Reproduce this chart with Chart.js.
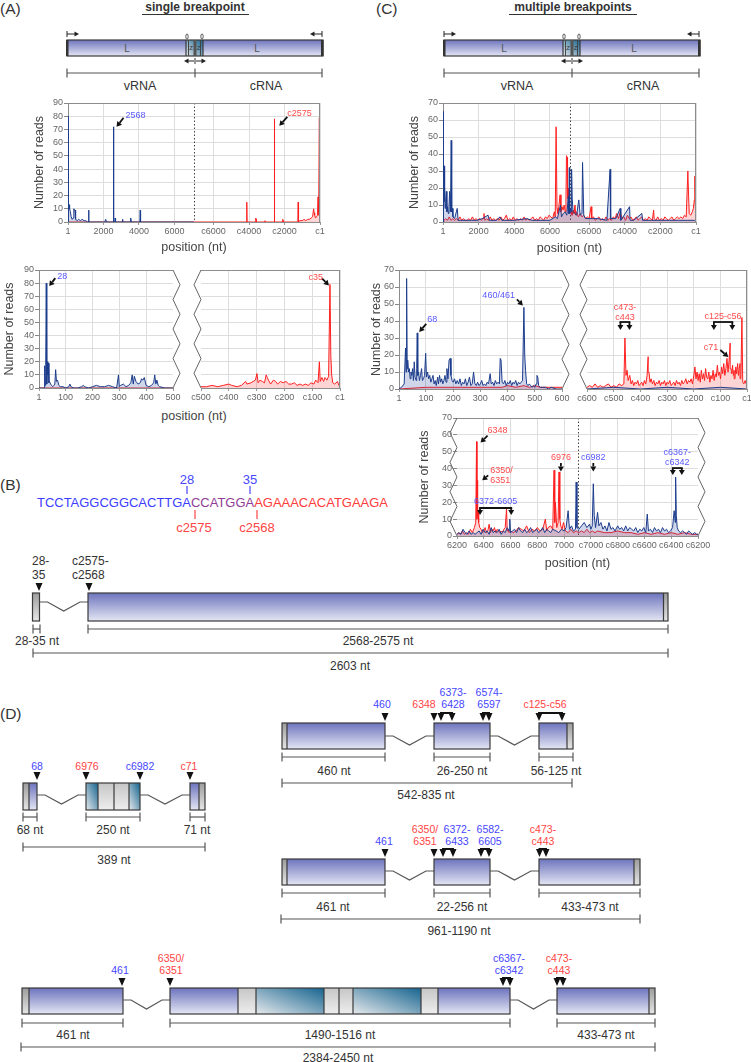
<!DOCTYPE html>
<html>
<head>
<meta charset="utf-8">
<script src="https://cdn.jsdelivr.net/npm/chart.js@4.4.0/dist/chart.umd.min.js"></script>
<style>
  body { margin: 0; background: #fff; width: 751px; height: 1062px; position: relative; overflow: hidden; }
  canvas { position: absolute; }
  #art { position: absolute; left: 0; top: 0; font-family: 'Liberation Sans', Arial, sans-serif; }
</style>
</head>
<body>
<svg id="art" width="751" height="1062">
  <defs>
    <linearGradient id="gb" x1="0" y1="0" x2="0" y2="1"><stop offset="0" stop-color="#6d74bd"/><stop offset="1" stop-color="#e4e6f3"/></linearGradient>
    <linearGradient id="gg" x1="0" y1="0" x2="0" y2="1"><stop offset="0" stop-color="#9c9c9c"/><stop offset="1" stop-color="#e6e6e6"/></linearGradient>
    <linearGradient id="gl" x1="0" y1="0" x2="0" y2="1"><stop offset="0" stop-color="#c6c6c6"/><stop offset="1" stop-color="#eeeeee"/></linearGradient>
    <linearGradient id="gt" x1="1" y1="0" x2="0" y2="1"><stop offset="0" stop-color="#16648f"/><stop offset="1" stop-color="#e6e9ec"/></linearGradient>
  </defs>
</svg>
<script>
// genome length used to fold vRNA + cRNA onto one axis
const L = 7100;

// ---- data: [position, number of reads]; 'cNNNN' = cRNA position ----
const aTopBlue = [[1,0],[10,14],[28,80],[40,14],[60,13],[90,10],[130,8],[180,4],[240,2],[300,3],[330,10],[360,9],[400,9],[430,2],[520,1],[600,2],[700,1],[800,2],[900,1],[1000,1],[1100,0],[1150,0],[1165,9],[1180,0],[2080,0],[2120,2],[2160,1],[2200,0],[2555,0],[2568,72],[2580,0],[2640,0],[2660,3],[2680,0],[3060,0],[3075,2],[3090,0],[3500,0],[3520,2],[3550,3],[3570,0],[4050,0],[4070,9],[4090,0],[7100,0]];
const aTopRed = [[1,0],['c7099',0],['c4140',0],['c4127',15],['c4110',0],['c3640',0],['c3620',3],['c3600',2],['c3580',0],['c3120',0],['c3100',1],['c3080',0],['c2590',0],['c2575',78],['c2565',11],['c2550',0],['c2130',0],['c2100',2],['c2080',1],['c2060',0],['c1250',0],['c1230',15],['c1210',0],['c1150',1],['c1000',1],['c900',2],['c800',1],['c700',2],['c600',2],['c500',3],['c420',4],['c360',10],['c330',7],['c300',5],['c250',3],['c200',4],['c150',5],['c110',19],['c90',5],['c60',8],['c37',79],['c30',12],['c15',5],['c1',3]];

const aLeftBlue = [[1,0],[10,0],[20,0],[22,17],[24,2],[26,17],[28,80],[30,3],[32,20],[34,10],[36,19],[38,4],[40,5],[44,3],[48,2],[52,1],[56,2],[60,3],[63,14],[66,5],[70,6],[75,2],[80,1],[90,1],[100,0],[112,1],[116,3],[120,1],[130,0],[145,0],[160,1],[166,2],[170,1],[185,0],[200,1],[215,2],[230,1],[245,1],[260,2],[275,1],[290,0],[297,10],[300,1],[305,2],[315,3],[325,1],[335,2],[343,4],[348,10],[352,3],[356,9],[362,5],[370,3],[378,4],[383,7],[388,6],[393,8],[400,2],[410,1],[420,2],[428,4],[432,10],[436,3],[440,6],[445,2],[450,1],[470,0],[500,0]];
const aLeftRed = [[1,0],[500,0]];
// right-hand panels: cRNA position numbers (axis runs c500 -> c1)
const aRightRed = [[500,1],[480,1],[460,2],[440,1],[420,2],[400,3],[390,2],[370,1],[355,2],[340,5],[335,3],[320,4],[305,6],[299,11],[295,4],[288,6],[280,5],[272,4],[266,10],[262,8],[258,6],[250,3],[240,6],[232,5],[225,3],[215,5],[205,4],[195,5],[185,3],[175,3],[165,4],[155,2],[145,3],[135,2],[125,3],[115,2],[105,4],[95,3],[88,6],[80,4],[75,20],[72,5],[66,8],[60,5],[55,8],[48,6],[42,9],[37,79],[34,25],[31,10],[27,4],[20,3],[10,5],[5,2],[1,2]];

const cTopBlue = [[1,0],[15,10],[29,65],[45,20],[68,33],[85,12],[99,21],[120,8],[150,12],[189,18],[220,6],[260,9],[300,5],[336,9],[373,18],[420,6],[461,48],[490,6],[510,8],[560,3],[650,2],[800,8],[850,1],[1000,1],[1300,1],[1600,1],[1900,1],[2200,2],[2530,4],[2600,1],[3000,1],[3200,3],[3300,1],[4000,1],[4700,2],[5000,1],[5500,1],[6000,1],[6300,3],[6420,2],[6594,10],[6650,3],[6750,5],[6850,6],[6950,4],[7030,15],[7060,5],[7090,32],
  ['c7090',5],['c7050',8],['c7010',6],['c6982',31],['c6950',14],['c6900',6],['c6800',5],['c6700',4],['c6579',13],['c6500',4],['c6400',5],['c6367',35],['c6300',4],['c6200',2],['c6000',2],['c5800',2],['c5500',2],['c5000',1],['c4822',31],['c4790',2],['c4500',2],['c4255',8],['c4220',1],['c3730',9],['c3700',1],['c3500',1],['c3037',5],['c3000',1],['c2500',1],['c2000',1],['c1500',1],['c1000',1],['c500',1],['c100',1],['c1',0]];
const cTopRed = [[1,0],[50,1],[150,2],[250,1],[350,3],[450,1],[550,2],[650,1],[750,2],[850,1],[950,3],[1050,1],[1150,2],[1250,1],[1350,1],[1450,2],[1550,1],[1650,3],[1750,1],[1850,2],[1950,1],[2050,2],[2150,1],[2250,2],[2300,5],[2350,1],[2450,2],[2550,1],[2650,3],[2750,1],[2850,2],[2950,1],[3050,2],[3150,1],[3250,3],[3350,1],[3450,2],[3550,4],[3650,1],[3750,2],[3850,1],[3950,3],[4050,1],[4150,2],[4250,1],[4350,2],[4450,1],[4550,3],[4650,1],[4750,2],[4850,1],[4950,2],[5050,3],[5150,1],[5250,2],[5350,1],[5450,3],[5550,2],[5650,1],[5750,3],[5850,2],[5950,4],[6050,3],[6150,2],[6250,6],[6300,3],[6348,56],[6400,8],[6450,5],[6500,9],[6570,16],[6620,6],[6680,9],[6740,7],[6800,10],[6860,6],[6900,12],[6930,39],[6962,38],[6990,14],[7020,20],[7050,9],[7080,6],
  ['c7080',5],['c7040',8],['c7000',6],['c6960',4],['c6900',7],['c6850',5],['c6793',10],['c6750',4],['c6700',6],['c6600',3],['c6500',5],['c6400',3],['c6300',4],['c6200',2],['c6100',3],['c6000',2],['c5887',9],['c5850',2],['c5750',3],['c5650',1],['c5550',2],['c5450',3],['c5350',1],['c5250',2],['c5150',1],['c5050',3],['c4950',1],['c4850',2],['c4750',1],['c4650',3],['c4550',2],['c4450',5],['c4350',2],['c4250',6],['c4150',2],['c4050',3],['c3950',1],['c3850',4],['c3750',2],['c3650',3],['c3550',1],['c3450',2],['c3350',3],['c3250',1],['c3150',2],['c3050',3],['c2950',1],['c2850',2],['c2750',1],['c2650',3],['c2550',2],['c2450',1],['c2380',7],['c2350',2],['c2250',1],['c2150',3],['c2050',1],['c1950',2],['c1850',1],['c1750',3],['c1650',2],['c1550',1],['c1450',2],['c1350',3],['c1250',1],['c1150',2],['c1050',3],['c950',2],['c850',3],['c750',2],['c650',4],['c550',3],['c458',30],['c430',20],['c380',5],['c300',4],['c200',6],['c150',8],['c95',13],['c64',27],['c40',10],['c20',42],['c10',4],['c1',2]];

const cLeftBlue = [[1,0],[10,1],[20,3],[25,24],[27,10],[29,65],[31,12],[33,17],[36,10],[39,12],[42,6],[45,10],[48,8],[51,12],[54,5],[57,16],[60,7],[64,5],[66,12],[68,33],[70,8],[73,10],[76,5],[80,8],[84,12],[87,5],[91,6],[95,8],[99,21],[102,7],[106,10],[110,6],[114,8],[118,4],[122,6],[126,8],[130,3],[134,5],[138,2],[143,7],[146,3],[150,8],[154,4],[158,6],[162,3],[166,5],[170,8],[174,4],[177,12],[181,6],[185,17],[189,18],[192,8],[196,5],[200,4],[205,6],[210,3],[215,5],[220,3],[225,6],[230,2],[235,4],[240,3],[245,6],[250,2],[255,4],[260,7],[265,2],[270,3],[275,10],[280,3],[285,2],[290,4],[295,2],[300,3],[305,5],[310,2],[315,3],[320,2],[325,4],[330,3],[336,9],[340,3],[345,4],[350,2],[355,5],[360,3],[365,4],[370,3],[373,18],[376,17],[380,4],[385,3],[390,5],[395,2],[400,4],[405,3],[410,5],[415,2],[420,4],[425,3],[430,5],[435,2],[440,4],[445,3],[450,4],[455,5],[460,48],[463,20],[466,11],[470,3],[475,2],[480,3],[485,2],[490,1],[495,2],[500,1],[505,3],[508,8],[511,7],[514,2],[520,1],[530,1],[540,1],[550,0],[560,1],[580,0],[600,0]];
const cLeftRed = [[1,0],[100,1],[200,1],[300,1],[380,1],[400,2],[430,1],[460,2],[480,1],[500,2],[520,1],[560,1],[600,1]];
const cRightBlue = [[600,0],[500,1],[400,0],[300,1],[200,0],[100,1],[1,0]];
const cRightRed = [[600,1],[590,2],[580,1],[570,3],[560,1],[550,2],[540,1],[530,2],[520,3],[510,1],[500,2],[490,1],[480,3],[470,2],[462,3],[458,30],[454,8],[450,11],[446,5],[440,8],[435,3],[430,5],[425,2],[420,4],[415,3],[410,5],[405,2],[400,3],[395,4],[390,2],[385,5],[380,3],[375,8],[371,19],[368,10],[364,4],[360,6],[355,3],[350,5],[345,2],[340,4],[335,3],[330,5],[325,2],[320,4],[315,3],[310,5],[305,2],[300,4],[295,3],[290,5],[285,2],[280,3],[275,4],[270,2],[265,5],[260,3],[255,4],[250,2],[245,5],[240,3],[235,4],[230,6],[225,3],[220,5],[215,4],[210,6],[205,3],[200,8],[196,13],[192,6],[188,10],[184,5],[180,9],[176,4],[172,11],[168,6],[164,9],[160,5],[156,12],[152,7],[148,6],[144,10],[140,4],[136,8],[132,6],[128,11],[124,5],[120,9],[116,7],[112,14],[108,8],[104,10],[100,6],[96,13],[92,9],[88,15],[84,8],[80,12],[76,18],[72,10],[68,17],[64,27],[61,12],[58,9],[55,14],[52,8],[49,11],[46,6],[43,13],[40,9],[36,15],[33,8],[30,12],[27,15],[24,6],[20,42],[17,4],[13,3],[8,5],[4,3],[1,2]];

const cZoomRed = [[6200,1],[6210,2],[6225,1],[6240,3],[6255,1],[6270,2],[6285,1],[6300,4],[6315,2],[6330,5],[6340,8],[6346,56],[6349,10],[6351,33],[6354,12],[6358,15],[6362,8],[6370,5],[6380,4],[6390,2],[6400,3],[6410,5],[6420,2],[6430,3],[6440,7],[6450,2],[6460,4],[6470,3],[6480,5],[6490,2],[6500,4],[6510,3],[6520,2],[6530,3],[6540,2],[6550,4],[6560,5],[6570,16],[6575,3],[6580,4],[6590,2],[6600,3],[6620,2],[6640,3],[6660,5],[6680,4],[6700,3],[6720,6],[6740,2],[6760,4],[6780,3],[6800,5],[6820,3],[6840,4],[6860,10],[6870,3],[6880,5],[6900,6],[6915,4],[6925,39],[6930,8],[6935,20],[6945,5],[6955,8],[6962,38],[6968,10],[6975,6],[6985,4],[6995,8],[7010,3],[7030,2],[7050,4],[7070,2],[7090,3],
  ['c7090',2],['c7070',3],['c7050',2],['c7030',4],['c7010',2],['c6990',3],['c6970',2],['c6950',3],['c6900',2],['c6850',2],['c6800',3],['c6750',2],['c6700',2],['c6650',1],['c6600',2],['c6550',1],['c6500',2],['c6450',1],['c6400',2],['c6350',1],['c6300',2],['c6250',1],['c6200',1]];
const cZoomBlue = [[6200,1],[6215,2],[6230,1],[6245,4],[6260,2],[6275,1],[6290,3],[6305,1],[6320,2],[6335,1],[6350,2],[6365,3],[6380,1],[6395,4],[6410,2],[6425,3],[6440,1],[6455,5],[6470,2],[6485,3],[6500,2],[6515,4],[6530,1],[6545,3],[6560,2],[6575,5],[6590,3],[6594,10],[6600,2],[6615,3],[6630,4],[6645,2],[6660,5],[6675,3],[6690,2],[6705,4],[6720,2],[6735,3],[6750,5],[6765,2],[6780,3],[6795,4],[6810,2],[6825,3],[6840,5],[6855,2],[6870,4],[6885,3],[6900,2],[6915,4],[6940,3],[6960,2],[6980,4],[7000,3],[7015,5],[7030,15],[7040,4],[7055,6],[7070,3],[7085,4],[7090,32],[7096,5],
  ['c7090',4],['c7070',6],['c7050',8],['c7030',5],['c7010',7],['c7000',4],['c6990',6],['c6982',31],['c6975',12],['c6965',5],['c6950',14],['c6940',6],['c6925',8],['c6910',4],['c6895',6],['c6880',3],['c6865',8],['c6850',4],['c6835',5],['c6820',3],['c6800',6],['c6785',4],['c6770',5],['c6755',3],['c6740',6],['c6725',3],['c6710',5],['c6695',4],['c6680',3],['c6665',5],['c6650',2],['c6635',4],['c6620',3],['c6605',5],['c6590',2],['c6579',13],['c6570',3],['c6555',4],['c6540',2],['c6525',5],['c6510',3],['c6495',4],['c6480',2],['c6465',5],['c6450',3],['c6435',4],['c6420',2],['c6405',3],['c6390',5],['c6378',15],['c6370',8],['c6367',35],['c6362',12],['c6355',5],['c6345',3],['c6330',2],['c6315',3],['c6300',2],['c6285',1],['c6270',3],['c6255',2],['c6240',1],['c6225',2],['c6210',1],['c6200',1]];

// tick labels
const fullTicks = [1, 2000, 4000, 6000, 'c6000', 'c4000', 'c2000', 'c1'];
const zoomTicks = [6200, 6400, 6600, 6800, 7000, 'c7000', 'c6800', 'c6600', 'c6400', 'c6200'];
const aLeftTicks = [1, 100, 200, 300, 400, 500];
const aRightTicks = [500, 400, 300, 200, 100, 1];
const cLeftTicks = [1, 100, 200, 300, 400, 500, 600];
const cRightTicks = [600, 500, 400, 300, 200, 100, 1];

function toU(p) { return typeof p === 'string' ? 2 * L - parseInt(p.slice(1), 10) : p; }
function foldLabel(v) { return v <= L ? String(v) : 'c' + (2 * L - v); }
function series(pairs, fold) {
  return pairs.map(d => ({ x: fold ? toU(d[0]) : d[0], y: d[1] })).sort((a, b) => a.x - b.x);
}

Chart.defaults.font.family = "'Liberation Sans', Arial, sans-serif";
const BLUE_LINE = '#1c3c8c', BLUE_FILL = 'rgba(40,70,160,0.22)';
const RED_LINE = '#ff1f1f', RED_FILL = 'rgba(255,40,40,0.2)';
const NOTE_BLUE = '#5a5aff', NOTE_RED = '#ff4a4a';
const GRID = '#dddddd', FRAME = '#8c8c8c';

function arrow(ctx, x1, y1, x2, y2) {
  const a = Math.atan2(y2 - y1, x2 - x1), hl = 5, hw = 3;
  const bx = x2 - hl * Math.cos(a), by = y2 - hl * Math.sin(a);
  ctx.strokeStyle = '#111'; ctx.fillStyle = '#111'; ctx.lineWidth = 1.8;
  ctx.beginPath(); ctx.moveTo(x1, y1); ctx.lineTo(bx, by); ctx.stroke();
  ctx.beginPath(); ctx.moveTo(x2, y2);
  ctx.lineTo(bx + hw * Math.sin(a), by - hw * Math.cos(a));
  ctx.lineTo(bx - hw * Math.sin(a), by + hw * Math.cos(a));
  ctx.closePath(); ctx.fill();
}
function noteText(ctx, lines, x, y, align, color) {
  ctx.font = "9px 'Liberation Sans', Arial, sans-serif";
  ctx.fillStyle = color; ctx.textAlign = align; ctx.textBaseline = 'middle';
  lines.forEach((s, i) => ctx.fillText(s, x, y + i * 10));
}
function drawNote(ctx, xs, ys, n) {
  const px = xs.getPixelForValue(n.x), py = ys.getPixelForValue(n.y || 0);
  const color = n.blue ? NOTE_BLUE : NOTE_RED;
  if (n.kind === 'diag') {
    const hx = px + n.head[0], hy = py + n.head[1], tx = hx + n.tail[0], ty = hy + n.tail[1];
    arrow(ctx, tx, ty, hx, hy);
    noteText(ctx, n.text, tx + n.txt[0], ty + n.txt[1], n.align, color);
  } else if (n.kind === 'down') {
    arrow(ctx, px, ys.getPixelForValue(n.from), px, ys.getPixelForValue(n.to));
    noteText(ctx, n.text, px, ys.getPixelForValue(n.ty), 'center', color);
  } else {
    let x1 = px, x2 = xs.getPixelForValue(n.x2);
    if (x1 > x2) [x1, x2] = [x2, x1];
    if (x2 - x1 < 9) { const c = (x1 + x2) / 2; x1 = c - 4.5; x2 = c + 4.5; }
    const yb = ys.getPixelForValue(n.bar), yt = ys.getPixelForValue(n.tip);
    ctx.strokeStyle = '#111'; ctx.lineWidth = 1.8;
    ctx.beginPath(); ctx.moveTo(x1 - 0.9, yb); ctx.lineTo(x2 + 0.9, yb); ctx.stroke();
    arrow(ctx, x1, yb, x1, yt); arrow(ctx, x2, yb, x2, yt);
    noteText(ctx, n.text, (x1 + x2) / 2, ys.getPixelForValue(n.ty), 'center', color);
  }
}
function zigzag(ctx, x0, top, bottom, dir) {
  const n = 8, step = (bottom - top) / n;
  ctx.strokeStyle = '#666'; ctx.lineWidth = 1;
  ctx.beginPath(); ctx.moveTo(x0, top);
  for (let i = 1; i <= n; i++) ctx.lineTo(x0 + (i % 2 ? dir * 7 : 0), top + i * step);
  ctx.stroke();
}

const marksPlugin = {
  id: 'marks',
  beforeDatasetsDraw(chart) {
    const o = chart.canvas._marks;
    if (o.mid == null) return;
    const { ctx, chartArea: a } = chart, x = Math.round(chart.scales.x.getPixelForValue(o.mid)) + 0.5;
    ctx.save(); ctx.strokeStyle = '#444'; ctx.lineWidth = 1; ctx.setLineDash([1.5, 2]);
    ctx.beginPath(); ctx.moveTo(x, a.top); ctx.lineTo(x, a.bottom); ctx.stroke(); ctx.restore();
  },
  afterDatasetsDraw(chart) {
    const o = chart.canvas._marks;
    const { ctx, chartArea: a, scales } = chart;
    ctx.save();
    ctx.strokeStyle = FRAME; ctx.lineWidth = 1;
    ctx.beginPath(); ctx.moveTo(a.left, a.top + 0.5); ctx.lineTo(a.right, a.top + 0.5);
    if (!o.zigR) { ctx.moveTo(a.right - 0.5, a.top); ctx.lineTo(a.right - 0.5, a.bottom); }
    ctx.stroke();
    if (o.zigR) zigzag(ctx, a.right, a.top, a.bottom, 1);
    if (o.zigL) zigzag(ctx, a.left, a.top, a.bottom, -1);
    o.notes.forEach(n => drawNote(ctx, scales.x, scales.y, n));
    ctx.restore();
  }
};

function makeChart(s) {
  const pt = 8, pr = s.pr || 14;
  const w = s.r - s.l + s.yw + pr, h = s.b - s.t + pt + s.xh;
  const cv = document.createElement('canvas');
  cv.width = w; cv.height = h;
  Object.assign(cv.style, { left: (s.l - s.yw) + 'px', top: (s.t - pt) + 'px', width: w + 'px', height: h + 'px' });
  cv._marks = { mid: s.mid, zigL: s.zigL, zigR: s.zigR, notes: s.notes || [] };
  document.body.appendChild(cv);
  const hide = s.hideGrid || [];
  return new Chart(cv, {
    type: 'line',
    data: {
      datasets: s.series.map(se => ({
        data: se.data,
        borderColor: se.blue ? BLUE_LINE : RED_LINE,
        backgroundColor: se.blue ? BLUE_FILL : RED_FILL,
        borderWidth: 1, pointRadius: 0, tension: 0, fill: 'origin'
      }))
    },
    options: {
      responsive: false, animation: false, events: [],
      layout: { padding: { top: pt, right: pr, left: 0, bottom: 0 } },
      plugins: { legend: { display: false }, tooltip: { enabled: false } },
      scales: {
        x: {
          type: 'linear', min: s.xmin, max: s.xmax, reverse: !!s.reverse, offset: false,
          afterBuildTicks: sc => { sc.ticks = s.xticks.map(v => ({ value: v })); },
          afterFit: sc => { sc.height = s.xh; sc.paddingLeft = 0; sc.paddingRight = 0; },
          ticks: { autoSkip: false, maxRotation: 0, minRotation: 0, padding: 1, color: '#666', font: { size: 9 }, callback: v => s.xlabel(v) },
          grid: { offset: false, color: c => (c.tick && hide.includes(c.tick.value)) ? 'rgba(0,0,0,0)' : GRID, tickLength: 3, tickColor: '#999' },
          border: { color: FRAME },
          title: { display: !!s.xTitle, text: 'position (nt)', color: '#444', font: { size: 12.5 }, padding: 0 }
        },
        y: {
          min: 0, max: s.ymax,
          afterFit: sc => { sc.width = s.yw; sc.paddingTop = 0; sc.paddingBottom = 0; },
          ticks: { display: s.showY, stepSize: 10, autoSkip: false, padding: 1, color: '#666', font: { size: 9 } },
          grid: { color: GRID, drawTicks: s.showY, tickLength: 4, tickColor: '#888' },
          border: { display: !s.zigL, color: FRAME },
          title: { display: s.showY, text: 'Number of reads', color: '#444', font: { size: 12.5 }, padding: 0 }
        }
      }
    },
    plugins: [marksPlugin]
  });
}

// (A) whole genome
makeChart({
  l: 68, t: 103, r: 320, b: 222, yw: 36, xh: 33, xmin: 1, xmax: toU('c1'),
  xticks: fullTicks.map(toU), xlabel: foldLabel, ymax: 90, showY: true, xTitle: true, mid: L,
  series: [{ data: series(aTopBlue, true), blue: true }, { data: series(aTopRed, true) }],
  notes: [
    { kind: 'diag', x: 2568, y: 72, head: [3, 0], tail: [7, -9], txt: [2, -2], text: ['2568'], blue: true, align: 'left' },
    { kind: 'diag', x: toU('c2575'), y: 78, head: [5, 7], tail: [8, -9], txt: [0, -3], text: ['c2575'], align: 'left' }
  ]
});
// (A) ends
makeChart({
  l: 39, t: 270, r: 173, b: 388, yw: 37, xh: 18, xmin: 1, xmax: 500, xticks: aLeftTicks, xlabel: v => String(v),
  ymax: 90, showY: true, zigR: true, hideGrid: [500],
  series: [{ data: series(aLeftBlue), blue: true }, { data: series(aLeftRed) }],
  notes: [{ kind: 'diag', x: 28, y: 80, head: [3, 3], tail: [6, -8], txt: [2, -2], text: ['28'], blue: true, align: 'left' }]
});
makeChart({
  l: 201, t: 270, r: 340, b: 388, yw: 10, xh: 18, xmin: 1, xmax: 500, reverse: true, xticks: aRightTicks, xlabel: v => 'c' + v,
  ymax: 90, showY: false, zigL: true, hideGrid: [500],
  series: [{ data: series(aRightRed) }],
  notes: [{ kind: 'diag', x: 37, y: 79, head: [-1, 1], tail: [-7, -7], txt: [1, -1], text: ['c35'], align: 'right' }]
});
// (C) whole genome
makeChart({
  l: 443, t: 103, r: 696, b: 222, yw: 36, xh: 34, xmin: 1, xmax: toU('c1'),
  xticks: fullTicks.map(toU), xlabel: foldLabel, ymax: 70, showY: true, xTitle: true, mid: L,
  series: [{ data: series(cTopBlue, true), blue: true }, { data: series(cTopRed, true) }]
});
// (C) ends
makeChart({
  l: 399, t: 270, r: 562, b: 389, yw: 30, xh: 18, xmin: 1, xmax: 600, xticks: cLeftTicks, xlabel: v => String(v),
  ymax: 70, showY: true, zigR: true, hideGrid: [600],
  series: [{ data: series(cLeftBlue), blue: true }, { data: series(cLeftRed) }],
  notes: [
    { kind: 'diag', x: 68, y: 33, head: [2, -1], tail: [7, -8], txt: [1, -4], text: ['68'], blue: true, align: 'left' },
    { kind: 'diag', x: 460, y: 48, head: [-1, -2], tail: [-6, -6], txt: [-2, -4], text: ['460/461'], blue: true, align: 'right' }
  ]
});
makeChart({
  l: 587, t: 270, r: 747, b: 389, yw: 10, xh: 18, pr: 8, xmin: 1, xmax: 600, reverse: true, xticks: cRightTicks, xlabel: v => 'c' + v,
  ymax: 70, showY: false, zigL: true, hideGrid: [600],
  series: [{ data: series(cRightBlue), blue: true }, { data: series(cRightRed) }],
  notes: [
    { kind: 'bracket', x: 473, x2: 443, bar: 39.4, tip: 34.7, ty: 48.2, text: ['c473-', 'c443'] },
    { kind: 'bracket', x: 125, x2: 56, bar: 39.4, tip: 34.7, ty: 42.9, text: ['c125-c56'] },
    { kind: 'diag', x: 71, y: 18.8, head: [0, 0], tail: [-8, -7], txt: [-2, -3], text: ['c71'], align: 'right' }
  ]
});
// (C) around the intergenic region
makeChart({
  l: 457, t: 418, r: 698, b: 536, yw: 40, xh: 35, pr: 16, xmin: 6200, xmax: toU('c6200'),
  xticks: zoomTicks.map(toU), xlabel: foldLabel, ymax: 70, showY: true, xTitle: true, mid: L,
  zigL: true, zigR: true, hideGrid: [6200, toU('c6200')],
  series: [{ data: series(cZoomBlue, true), blue: true }, { data: series(cZoomRed, true) }],
  notes: [
    { kind: 'diag', x: 6346, y: 56, head: [4, 1], tail: [7, -7], txt: [0, -5], text: ['6348'], align: 'left' },
    { kind: 'diag', x: 6351, y: 33, head: [5, 0], tail: [6, -5], txt: [2, -5], text: ['6350/', '6351'], align: 'left' },
    { kind: 'down', x: 6976, from: 43.3, to: 38.3, ty: 46.3, text: ['6976'] },
    { kind: 'down', x: toU('c6982'), from: 43.3, to: 38.3, ty: 46.3, text: ['c6982'], blue: true },
    { kind: 'bracket', x: toU('c6367'), x2: toU('c6342'), bar: 40.3, tip: 36.2, ty: 49.8, text: ['c6367-', 'c6342'], blue: true },
    { kind: 'bracket', x: 6372, x2: 6605, bar: 16.6, tip: 12.5, ty: 20.2, text: ['6372-6605'], blue: true }
  ]
});

// ---- schematic drawings ----
const NS = 'http://www.w3.org/2000/svg';
const art = document.getElementById('art');
const INK = '#333', TBLUE = '#4646ff', TRED = '#ff4444';
function add(tag, a, text, parent) {
  const e = document.createElementNS(NS, tag);
  for (const k in a) e.setAttribute(k, a[k]);
  if (text != null) e.textContent = text;
  (parent || art).appendChild(e);
  return e;
}
function label(x, y, s, size, fill, anchor, weight) {
  return add('text', { x, y, 'font-size': size, fill, 'text-anchor': anchor || 'middle', 'dominant-baseline': 'central', 'font-weight': weight || 'normal' }, s);
}
function stack(x, y, lines, fill) { lines.forEach((s, i) => label(x, y + i * 12, s, 10.5, fill)); }
function line(x1, y1, x2, y2, w, c) { add('line', { x1, y1, x2, y2, stroke: c || INK, 'stroke-width': w || 1 }); }
function measure(x1, x2, y) {
  line(x1, y, x2, y, 1.2, '#555'); line(x1, y - 4.5, x1, y + 4.5, 1.2, '#555'); line(x2, y - 4.5, x2, y + 4.5, 1.2, '#555');
}
function tri(x, tip) { add('polygon', { points: `${x - 3.5},${tip - 8} ${x + 3.5},${tip - 8} ${x},${tip}`, fill: '#111' }); }
function triPair(x1, x2, tip) { tri(x1, tip); tri(x2, tip); line(x1 - 1, tip - 8, x2 + 1, tip - 8, 2, '#111'); }
function link(x1, x2, y) {
  add('polyline', { points: `${x1},${y} ${x1 + 8},${y} ${(x1 + x2) / 2},${y + 9} ${x2 - 8},${y} ${x2},${y}`, fill: 'none', stroke: '#555', 'stroke-width': 1.2 });
}
function seg(parts, y, h) {
  parts.forEach(p => add('rect', { x: p[0], y, width: p[1] - p[0], height: h, fill: `url(#${p[2]})` }));
  parts.slice(1).forEach(p => line(p[0], y, p[0], y + h, 1.2, '#3a3a3a'));
  const x1 = parts[0][0], x2 = parts[parts.length - 1][1];
  add('rect', { x: x1, y, width: x2 - x1, height: h, fill: 'none', stroke: '#3a3a3a', 'stroke-width': 1.2 });
}
function harrow(x1, x2, y, tick) {
  const d = x2 > x1 ? 1 : -1;
  if (tick) line(x1, y - 3, x1, y + 3, 1, '#222');
  line(x1, y, x2 - d * 4, y, 1, '#222');
  add('polygon', { points: `${x2},${y} ${x2 - d * 4.5},${y - 2.5} ${x2 - d * 4.5},${y + 2.5}`, fill: '#222' });
}
function genome(ox) {
  const X = v => v + ox;
  seg([[X(67), X(186), 'gb'], [X(186), X(203), 'gt'], [X(203), X(323), 'gb']], 40, 16);
  add('rect', { x: X(66), y: 40, width: 2.5, height: 16, fill: '#333' });
  add('rect', { x: X(321), y: 40, width: 2.5, height: 16, fill: '#333' });
  add('rect', { x: X(193.5), y: 40, width: 3, height: 16, fill: '#555' });
  line(X(188.5), 40, X(188.5), 56, 1, '#444'); line(X(200.5), 40, X(200.5), 56, 1, '#444');
  label(X(191), 48, 'Z', 6, '#333'); label(X(198.5), 48, 'Z', 6, '#333');
  add('ellipse', { cx: X(187), cy: 36.5, rx: 1.2, ry: 2.6, fill: '#fff', stroke: '#333', 'stroke-width': 0.8 });
  add('ellipse', { cx: X(202), cy: 36.5, rx: 1.2, ry: 2.6, fill: '#fff', stroke: '#333', 'stroke-width': 0.8 });
  label(X(127), 48, 'L', 10, '#555'); label(X(257), 48, 'L', 10, '#555');
  harrow(X(67), X(79), 34, true); harrow(X(322), X(310), 34, true);
  harrow(X(194), X(184), 61, false); harrow(X(196), X(206), 61, false);
  line(X(195), 58, X(195), 64, 1, '#333');
  measure(X(67), X(322), 73); line(X(195), 68.5, X(195), 77.5, 1.2, '#555');
  label(X(140), 86, 'vRNA', 12.5, INK); label(X(266), 86, 'cRNA', 12.5, INK);
}

// headers
label(0, 8, '(A)', 15.5, INK, 'start');
label(195, 6.5, 'single breakpoint', 12, INK, 'middle', 'bold'); line(142, 14.5, 249, 14.5, 1, INK);
label(376, 8, '(C)', 15.5, INK, 'start');
label(573, 6.5, 'multiple breakpoints', 12, INK, 'middle', 'bold'); line(509, 14.5, 637, 14.5, 1, INK);
genome(0); genome(377);
label(194, 416, 'position (nt)', 12.5, '#444');

// (B)
label(0, 484, '(B)', 15.5, INK, 'start');
const seq = add('text', { x: 37, y: 502, 'font-size': 13, 'dominant-baseline': 'central', textLength: 351, lengthAdjust: 'spacingAndGlyphs' });
[['TCCTAGGCGGCACTTGA', '#3c3cff'], ['CCATGGA', '#8e3c96'], ['AGAAACACATGAAGA', '#ff3a3a']]
  .forEach(p => add('tspan', { fill: p[1] }, p[0], seq));
label(187, 479, '28', 13, TBLUE); line(187, 486, 187, 494, 1.2, TBLUE);
label(250, 479, '35', 13, TBLUE); line(250, 486, 250, 494, 1.2, TBLUE);
label(194, 527, 'c2575', 13, TRED); line(195, 510, 195, 519, 1.2, TRED);
label(257, 527, 'c2568', 13, TRED); line(257, 510, 257, 519, 1.2, TRED);
label(32, 561, '28-', 12, INK, 'start'); label(32, 575, '35', 12, INK, 'start');
label(72, 561, 'c2575-', 12, INK, 'start'); label(72, 575, 'c2568', 12, INK, 'start');
tri(39, 591); tri(89, 591);
seg([[32.5, 39.5, 'gg']], 593, 28);
link(39.5, 88, 602);
seg([[88, 663.5, 'gb'], [663.5, 668, 'gg']], 593, 28);
measure(33, 40, 629); label(37, 641, '28-35 nt', 12, INK);
measure(88, 668, 629); label(378, 641, '2568-2575 nt', 12, INK);
measure(33, 668, 653); label(350, 666, '2603 nt', 12, INK);

// (D)
label(0, 713, '(D)', 15.5, INK, 'start');
// 389 nt
label(37, 766, '68', 10.5, TBLUE); label(87, 766, '6976', 10.5, TRED); label(140, 766, 'c6982', 10.5, TBLUE); label(189, 766, 'c71', 10.5, TRED);
tri(37, 780); tri(86, 780); tri(140, 780); tri(190, 780);
seg([[23, 29, 'gg'], [29, 37, 'gb']], 783, 27);
link(37, 86, 795);
seg([[86, 98, 'gt'], [98, 114, 'gl'], [114, 129, 'gl'], [129, 140, 'gt']], 783, 27);
link(140, 190, 795);
seg([[190, 199, 'gb'], [199, 205, 'gg']], 783, 27);
measure(23, 37, 817); measure(86, 140, 817); measure(190, 205, 817);
label(30, 830, '68 nt', 12, INK); label(113, 830, '250 nt', 12, INK); label(197, 830, '71 nt', 12, INK);
measure(23, 205, 847); label(114, 860, '389 nt', 12, INK);
// 542-835 nt
label(382, 704, '460', 10.5, TBLUE); label(424, 704, '6348', 10.5, TRED);
stack(453, 692, ['6373-', '6428'], TBLUE); stack(489, 692, ['6574-', '6597'], TBLUE);
label(545, 704, 'c125-c56', 10.5, TRED);
tri(385, 721); tri(434, 721); triPair(441, 452, 721); triPair(483, 489, 721); triPair(539, 562, 721);
seg([[282, 287, 'gg'], [287, 385, 'gb']], 723, 26); link(385, 434, 736);
seg([[434, 490, 'gb']], 723, 26); link(490, 539, 736);
seg([[539, 567, 'gb'], [567, 573, 'gg']], 723, 26);
measure(282, 385, 757); measure(434, 490, 757); measure(539, 573, 757);
label(334, 771, '460 nt', 12, INK); label(462, 771, '26-250 nt', 12, INK); label(556, 771, '56-125 nt', 12, INK);
measure(282, 572, 783); label(426, 795, '542-835 nt', 12, INK);
// 961-1190 nt
label(384, 841, '461', 10.5, TBLUE);
stack(425, 829, ['6350/', '6351'], TRED); stack(457, 829, ['6372-', '6433'], TBLUE);
stack(490, 829, ['6582-', '6605'], TBLUE); stack(543, 829, ['c473-', 'c443'], TRED);
tri(385, 857); tri(434, 857); triPair(443, 453, 857); triPair(481, 489, 857); triPair(539.5, 546, 857);
seg([[282, 287, 'gg'], [287, 385, 'gb']], 859, 26); link(385, 434, 871);
seg([[434, 490, 'gb']], 859, 26); link(490, 539, 871);
seg([[539, 634, 'gb'], [634, 640, 'gg']], 859, 26);
measure(282, 385, 893); measure(434, 490, 893); measure(539, 640, 893);
label(333, 907, '461 nt', 12, INK); label(462, 907, '22-256 nt', 12, INK); label(590, 907, '433-473 nt', 12, INK);
measure(281, 640, 919); label(459, 931, '961-1190 nt', 12, INK);
// 2384-2450 nt
label(120, 970, '461', 10.5, TBLUE);
stack(171, 958, ['6350/', '6351'], TRED); stack(509, 958, ['c6367-', 'c6342'], TBLUE); stack(559, 958, ['c473-', 'c443'], TRED);
tri(122, 986); tri(170, 986); triPair(503, 510, 986); triPair(557, 563, 986);
seg([[22, 29, 'gg'], [29, 123, 'gb']], 988, 26); link(123, 170, 1000);
seg([[170, 238, 'gb'], [238, 256, 'gl'], [256, 324, 'gt'], [324, 339, 'gl'], [339, 353, 'gl'], [353, 421, 'gt'], [421, 438, 'gl'], [438, 510, 'gb']], 988, 26);
link(510, 557, 1000);
seg([[557, 649, 'gb'], [649, 655, 'gg']], 988, 26);
measure(22, 123, 1023); measure(170, 510, 1023); measure(557, 655, 1023);
label(73, 1035, '461 nt', 12, INK); label(340, 1035, '1490-1516 nt', 12, INK); label(606, 1035, '433-473 nt', 12, INK);
measure(21, 655, 1047); label(338, 1058, '2384-2450 nt', 12, INK);
</script>
</body>
</html>
